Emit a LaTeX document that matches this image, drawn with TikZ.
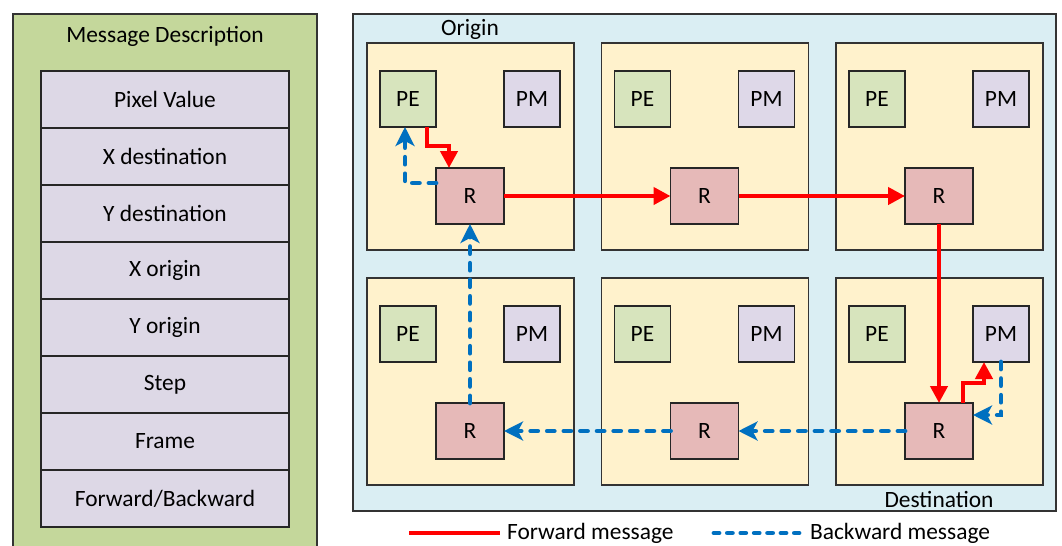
\documentclass[tikz,border=0pt]{standalone}
\usepackage{fontspec}
\setmainfont{Carlito}
\usetikzlibrary{arrows.meta, positioning, calc}

\definecolor{panelgreen}{RGB}{196,215,155}
\definecolor{fieldpurple}{RGB}{221,216,230}
\definecolor{panelblue}{RGB}{218,238,243}
\definecolor{tileyellow}{RGB}{255,242,204}
\definecolor{pegreen}{RGB}{215,228,189}
\definecolor{pmpurple}{RGB}{222,216,232}
\definecolor{rred}{RGB}{230,185,184}
\definecolor{fwdred}{RGB}{255,0,0}
\definecolor{bwdblue}{RGB}{0,112,192}

\begin{document}
\begin{tikzpicture}[
  x=0.5pt, y=-0.5pt,
  font=\fontsize{11.7}{14}\selectfont,
  panel/.style={draw=black!80, line width=0.6pt},
  field/.style={draw=black!85, fill=fieldpurple, line width=0.6pt, minimum width=124pt, minimum height=28.5pt, inner sep=0pt, outer sep=0pt},
  tile/.style={draw=black!80, fill=tileyellow, line width=0.6pt, minimum width=103.5pt, minimum height=103.5pt, inner sep=0pt, outer sep=0pt},
  unit/.style={draw=black!85, line width=0.6pt, minimum width=28pt, minimum height=28pt, inner sep=0pt, outer sep=0pt},
  pe/.style={unit, fill=pegreen},
  pm/.style={unit, fill=pmpurple},
  router/.style={unit, fill=rred, minimum width=34pt},
  fwd/.style={draw=fwdred, line width=2.1pt, -{Triangle[length=8.5pt,width=8.5pt]}},
  bwd/.style={draw=bwdblue, line width=2.4pt, line cap=round, dash pattern=on 3.5pt off 4.8pt, -{Stealth[length=9.5pt,width=9.5pt,inset=2.5pt]}}
]
\useasboundingbox (0,0) rectangle (1062,546);

% message fields
\draw[panel, fill=panelgreen] (13,14) rectangle (317,560);
\node (msgtitle) at (165,36) {Message Description};
\node[field] (f1) at (165,99.5) {Pixel Value};
\node[field, below=0pt of f1] (f2) {X destination};
\node[field, below=0pt of f2] (f3) {Y destination};
\node[field, below=0pt of f3] (f4) {X origin};
\node[field, below=0pt of f4] (f5) {Y origin};
\node[field, below=0pt of f5] (f6) {Step};
\node[field, below=0pt of f6] (f7) {Frame};
\node[field, below=0pt of f7] (f8) {Forward/Backward};

% mesh
\draw[panel, fill=panelblue] (353,14) rectangle (1056,511);
\node (origin) at (470,29) {Origin};
\node (dest) at (939,499) {Destination};
\foreach \row/\ty in {1/43, 2/278} {
  \foreach \col/\tx in {1/367, 2/601.5, 3/836} {
    \node[tile, anchor=north west] (t\row\col) at (\tx,\ty) {};
    \node[pe] (pe\row\col) at (\tx+41,\ty+56) {PE};
    \node[pm] (pm\row\col) at (\tx+165,\ty+56) {PM};
    \node[router] (r\row\col) at (\tx+103,\ty+153) {R};
  }
}

% forward path
\draw[fwd] ($(pe11.south)+(19,0)$) -- ++(0,19) -| ($(r11.north)+(-21,0)$);
\draw[fwd] (r11) -- (r12);
\draw[fwd] (r12) -- (r13);
\draw[fwd] (r13) -- (r23);
\draw[fwd] ($(r23.north)+(24,0)$) -- ++(0,-20) -| ($(pm23.south)+(-17,0)$);

% backward path
\draw[bwd] (pm23.south) |- ($(r23.east)+(0,-16)$);
\draw[bwd] (r23) -- (r22);
\draw[bwd] (r22) -- (r21);
\draw[bwd] (r21) -- (r11);
\draw[bwd] ($(r11.west)+(0,-13)$) -| ($(pe11.south)+(-3,0)$);

% legend
\coordinate (fwdA) at (409,533);
\node[anchor=west] (fwdtxt) at (500,533) {Forward message};
\draw[draw=fwdred, line width=2.1pt] (fwdA) -- (fwdtxt.west);
\coordinate (bwdA) at (714,533);
\node[anchor=west] (bwdtxt) at (803,533) {Backward message};
\draw[draw=bwdblue, line width=2.4pt, line cap=round, dash pattern=on 2.5pt off 4.2pt] (bwdA) -- ($(bwdtxt.west)+(-4,0)$);
\end{tikzpicture}
\end{document}
